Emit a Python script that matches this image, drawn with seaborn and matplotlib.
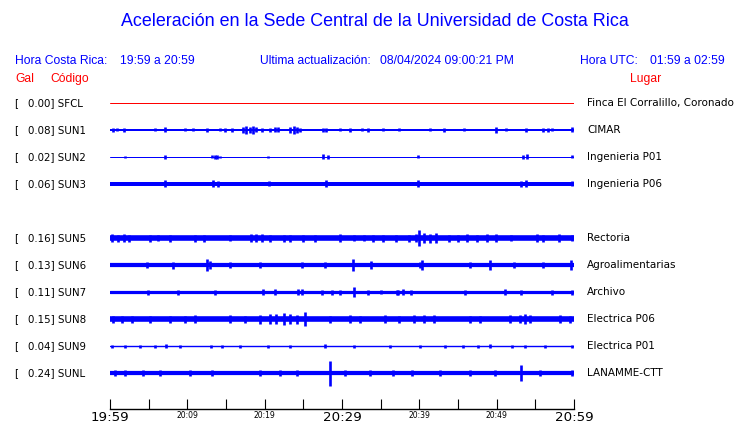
import matplotlib
matplotlib.use("Agg")
import matplotlib.pyplot as plt
import seaborn as sns
import numpy as np
import pandas as pd

# station table: peak acceleration [Gal], code, place, row centre (px)
gal = ["0.00", "0.08", "0.02", "0.06", "0.16", "0.13", "0.11", "0.15", "0.04", "0.24"]
codes = ["SFCL", "SUN1", "SUN2", "SUN3", "SUN5", "SUN6", "SUN7", "SUN8", "SUN9", "SUNL"]
places = ["Finca El Corralillo, Coronado", "CIMAR", "Ingenieria P01", "Ingenieria P06",
          "Rectoria", "Agroalimentarias", "Archivo", "Electrica P06", "Electrica P01",
          "LANAMME-CTT"]
rows = [103, 130, 157, 184, 238, 265, 292, 319, 346, 373]
colors = ["red"] + ["blue"] * 9

# background half-width of each trace (px)
base = [0.5, 1.0, 0.5, 2.0, 2.8, 2.1, 1.6, 2.8, 0.7, 2.1]

# bursts: (minute after 19:59, half amplitude px)
spikes = {
    "SFCL": [],
    "SUN1": [(0.4, 2), (0.9, 1.5), (1.8, 2), (5.8, 1.5), (7.1, 2.5), (9.7, 1.5), (10.7, 1.5),
             (12.5, 2), (14.2, 1.5), (14.9, 2), (15.8, 2), (17.2, 3), (17.6, 4), (18.1, 3),
             (18.5, 4), (18.9, 2.5), (19.7, 2), (20.7, 2), (21.3, 2.5), (21.7, 2.5), (23.3, 3),
             (23.8, 4), (24.2, 3), (24.6, 2), (27.5, 2), (27.9, 2), (29.7, 1.5), (31.0, 2),
             (32.6, 1.5), (33.3, 2), (35.3, 1.5), (37.4, 1.5), (41.4, 1.5), (43.2, 2),
             (45.8, 1.5), (49.9, 3), (51.2, 1.5), (53.8, 2), (56.0, 2), (56.6, 2), (57.1, 1.5),
             (59.8, 2.5)],
    "SUN2": [(2.0, 1), (7.1, 2), (13.2, 1.5), (13.6, 2), (13.9, 2), (14.2, 1), (20.4, 1),
             (27.6, 2.5), (28.2, 2), (39.8, 1.5), (53.4, 2), (53.9, 2.5), (59.8, 1.5)],
    "SUN3": [(7.1, 3.5), (13.3, 3.5), (14.0, 3), (20.5, 2.5), (27.9, 3.5), (39.8, 3.5),
             (53.1, 3), (53.8, 3.5), (59.8, 2.5)],
    "SUN5": [(0.3, 4), (1.0, 3.5), (1.8, 4), (2.5, 3.5), (5.2, 3.5), (6.2, 3), (7.8, 3.5),
             (11.0, 3.5), (12.2, 3.5), (15.5, 3), (18.2, 4), (18.9, 4), (19.7, 4), (20.7, 3.5),
             (22.5, 3.5), (23.3, 3.5), (25.0, 3.5), (26.5, 3.5), (29.7, 4), (31.5, 3),
             (32.8, 3), (34.0, 3.5), (35.3, 3.5), (37.0, 3.5), (38.7, 3.5), (39.6, 4),
             (39.9, 8), (40.6, 5), (41.4, 4.5), (42.1, 5), (43.9, 3.5), (45.0, 3.5),
             (46.2, 4), (47.5, 3.5), (48.8, 4), (49.9, 4), (51.9, 3), (55.2, 4), (56.0, 3.5),
             (58.0, 4), (59.8, 3)],
    "SUN6": [(4.8, 3), (8.2, 3.5), (12.5, 6), (12.9, 4), (15.5, 3), (19.4, 3), (24.8, 3),
             (27.8, 3), (31.4, 6), (33.8, 4), (40.1, 3), (40.4, 5), (46.6, 3), (49.2, 5),
             (52.3, 3), (56.0, 3), (59.6, 5)],
    "SUN7": [(4.9, 2.5), (8.8, 2.5), (13.6, 2.5), (19.8, 3), (21.3, 3), (24.3, 3), (24.8, 3),
             (27.4, 2.5), (28.7, 2.5), (29.7, 2.5), (31.5, 5), (33.3, 2.5), (35.0, 2),
             (37.1, 2.5), (37.2, 2.5), (37.9, 3), (38.9, 2.5), (45.9, 2.5), (51.1, 3),
             (53.2, 2.5), (57.2, 2.5), (59.8, 2.5)],
    "SUN8": [(0.4, 3.5), (1.5, 3.5), (2.8, 3.5), (5.2, 3.5), (7.8, 3.5), (9.7, 3.5),
             (11.0, 4), (15.5, 4), (17.5, 3.5), (19.4, 4.5), (20.7, 5), (21.5, 5), (22.5, 6),
             (23.3, 5), (24.2, 4.5), (25.2, 7), (28.4, 3.5), (31.0, 4), (32.3, 3.5), (35.5, 4),
             (37.4, 3.5), (39.3, 4), (40.6, 4), (41.9, 4), (46.6, 3.5), (47.9, 3.5),
             (51.7, 4), (53.0, 4), (53.7, 5), (54.3, 4), (58.2, 4), (59.5, 3.5)],
    "SUN9": [(0.3, 1.5), (1.9, 1.5), (3.9, 1.5), (5.8, 1.5), (7.2, 2), (9.1, 1.5), (13.0, 1.5),
             (14.5, 1.5), (16.8, 1.5), (20.4, 1.5), (23.3, 1.5), (27.8, 2), (31.6, 1.5),
             (36.2, 1.5), (40.1, 1.5), (43.3, 1.5), (45.6, 1.5), (47.6, 1.5), (49.2, 2),
             (52.0, 1.5), (53.7, 1.5), (56.3, 1.5), (59.8, 1.5)],
    "SUNL": [(0.6, 3), (1.9, 3), (4.3, 3), (6.5, 3), (10.3, 3), (13.2, 3), (19.4, 3), (22.0, 3),
             (24.2, 3), (28.4, 12.5), (30.4, 3), (33.6, 3), (36.6, 3), (39.1, 3), (42.7, 3),
             (46.6, 3), (49.8, 3), (53.1, 8), (55.6, 3), (59.8, 3)],
}

# time axis labels
tick_minutes = list(range(0, 61, 5))
tick_labels = ["19:59", "", "20:09", "", "20:19", "", "20:29", "", "20:39", "", "20:49", "",
               "20:59"]

W, H = 740, 423
sns.set_theme(style="white")
plt.rcParams["font.family"] = ["DejaVu Sans"]

fig = plt.figure(figsize=(W / 100, H / 100), dpi=100)
ax = fig.add_axes([110 / W, (H - 409) / H, 464 / W, (409 - 90) / H])
ax.set_xlim(0, 60)
ax.set_ylim(409, 90)


def px(x, y):
    return x / W, 1 - y / H


# traces: background band drawn with seaborn, bursts as vertical strokes
for code, y0, b, col in zip(codes, rows, base, colors):
    band = pd.DataFrame({"t": [0, 60], "y": [y0, y0]})
    sns.lineplot(data=band, x="t", y="y", ax=ax, color=col, linewidth=max(2 * b, 1) * 0.72)
    sp = spikes[code]
    if sp:
        t = [s[0] for s in sp]
        a = np.array([s[1] for s in sp])
        ax.vlines(t, y0 - a, y0 + a, color=col, linewidth=1.9)

ax.set_xlabel("")
ax.set_ylabel("")
ax.set_yticks([])
for s in ["top", "left", "right"]:
    ax.spines[s].set_visible(False)
ax.spines["bottom"].set_color("black")
ax.spines["bottom"].set_linewidth(1.0)
ax.set_xticks(tick_minutes)
ax.set_xticklabels(tick_labels)
ax.tick_params(axis="x", direction="in", length=7.5, width=0.8, color="black", pad=1.2,
               bottom=True)
for i, lab in enumerate(ax.get_xticklabels()):
    big = tick_minutes[i] % 30 == 0
    lab.set_fontsize(9.6 if big else 5.5)
    lab.set_color("black")

# title and header
hfont = ["Liberation Sans", "DejaVu Sans"]
fig.text(*px(375, 22), "Aceleración en la Sede Central de la Universidad de Costa Rica",
         ha="center", va="center", color="blue", fontsize=12.9, family=hfont)
header = [(15, "Hora Costa Rica:"), (120, "19:59 a 20:59"), (260, "Ultima actualización:"),
          (380, "08/04/2024 09:00:21 PM"), (580, "Hora UTC:"), (650, "01:59 a 02:59")]
for x, s in header:
    fig.text(*px(x, 61), s, ha="left", va="center", color="blue", fontsize=8.7, family=hfont)
for x, s in [(15, "Gal"), (50, "Código"), (630, "Lugar")]:
    fig.text(*px(x, 79), s, ha="left", va="center", color="red", fontsize=8.7, family=hfont)

# station labels
for g, code, place, y0 in zip(gal, codes, places, rows):
    fig.text(*px(14, y0), "[", ha="left", va="center", color="black", fontsize=7.4)
    fig.text(*px(28, y0), f"{g}] {code}", ha="left", va="center", color="black", fontsize=7.4)
    fig.text(*px(587, y0), place, ha="left", va="center", color="black", fontsize=7.5)

fig.savefig("out.png", dpi=100)
